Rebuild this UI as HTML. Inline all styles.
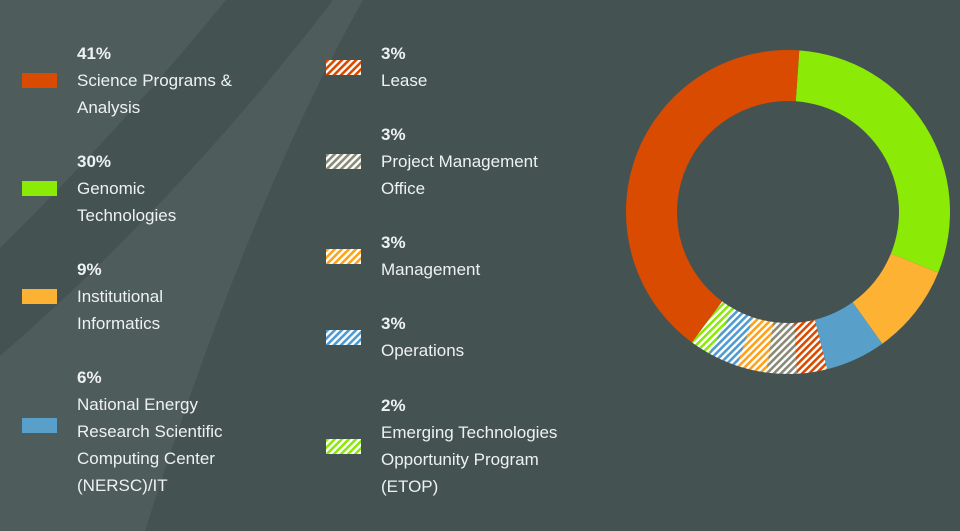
<!DOCTYPE html>
<html><head><meta charset="utf-8"><style>
body{margin:0;width:960px;height:531px;overflow:hidden;background:#455252;font-family:"Liberation Sans",sans-serif;position:relative}
#bg{position:absolute;left:0;top:0}
.col{position:absolute;top:0}
.item{position:absolute;display:flex;align-items:center}
.sw{width:35px;height:15px;margin-right:20px;flex:none}
.txt{color:#eef1f1;font-size:17px;line-height:27px}
.pct{font-weight:bold}
#donut{position:absolute;left:0;top:0}
</style></head><body>
<svg id="bg" width="960" height="531">
<path d="M0 0 L226 0 Q120 130 0 248 Z" fill="#4f5c5c"/>
<path d="M333 0 Q180 200 0 356 L0 531 L145 531 Q250 200 363 0 Z" fill="#4f5c5c"/>
</svg>
<svg width="0" height="0" style="position:absolute">
<defs>
<pattern id="h-lease" width="5" height="5" patternUnits="userSpaceOnUse" patternTransform="rotate(45)"><rect width="5" height="5" fill="#fff"/><rect width="2.6" height="5" fill="#d84a00"/></pattern>
<pattern id="h-pmo" width="5" height="5" patternUnits="userSpaceOnUse" patternTransform="rotate(45)"><rect width="5" height="5" fill="#fff"/><rect width="2.6" height="5" fill="#8a8a78"/></pattern>
<pattern id="h-mgmt" width="5" height="5" patternUnits="userSpaceOnUse" patternTransform="rotate(45)"><rect width="5" height="5" fill="#fff"/><rect width="2.6" height="5" fill="#fda31b"/></pattern>
<pattern id="h-ops" width="5" height="5" patternUnits="userSpaceOnUse" patternTransform="rotate(45)"><rect width="5" height="5" fill="#fff"/><rect width="2.6" height="5" fill="#4f9ad0"/></pattern>
<pattern id="h-etop" width="5" height="5" patternUnits="userSpaceOnUse" patternTransform="rotate(45)"><rect width="5" height="5" fill="#fff"/><rect width="2.6" height="5" fill="#8be80a"/></pattern>
</defs></svg>

<div>
<div class="item" style="left:22px;top:40px;height:81px"><div class="sw" style="background:#d94b00"></div><div class="txt"><div class="pct">41%</div>Science Programs &amp;<br>Analysis</div></div>
<div class="item" style="left:22px;top:148px;height:81px"><div class="sw" style="background:#8bea06"></div><div class="txt"><div class="pct">30%</div>Genomic<br>Technologies</div></div>
<div class="item" style="left:22px;top:256px;height:81px"><div class="sw" style="background:#fdb234"></div><div class="txt"><div class="pct">9%</div>Institutional<br>Informatics</div></div>
<div class="item" style="left:22px;top:364px;height:135px"><div class="sw" style="background:#58a0c9;margin-top:-12px"></div><div class="txt"><div class="pct">6%</div>National Energy<br>Research Scientific<br>Computing Center<br>(NERSC)/IT</div></div>

<div class="item" style="left:326px;top:40px;height:54px"><div class="sw" style="background:url(#)"><svg width="35" height="15"><rect width="35" height="15" fill="url(#h-lease)"/></svg></div><div class="txt"><div class="pct">3%</div>Lease</div></div>
<div class="item" style="left:326px;top:121px;height:81px"><div class="sw"><svg width="35" height="15"><rect width="35" height="15" fill="url(#h-pmo)"/></svg></div><div class="txt"><div class="pct">3%</div>Project Management<br>Office</div></div>
<div class="item" style="left:326px;top:229px;height:54px"><div class="sw"><svg width="35" height="15"><rect width="35" height="15" fill="url(#h-mgmt)"/></svg></div><div class="txt"><div class="pct">3%</div>Management</div></div>
<div class="item" style="left:326px;top:310px;height:54px"><div class="sw"><svg width="35" height="15"><rect width="35" height="15" fill="url(#h-ops)"/></svg></div><div class="txt"><div class="pct">3%</div>Operations</div></div>
<div class="item" style="left:326px;top:392px;height:108px"><div class="sw"><svg width="35" height="15"><rect width="35" height="15" fill="url(#h-etop)"/></svg></div><div class="txt"><div class="pct">2%</div>Emerging Technologies<br>Opportunity Program<br>(ETOP)</div></div>
</div>

<svg id="donut" width="960" height="531"></svg>
<script>
const categories = ["Genomic Technologies","Institutional Informatics","NERSC/IT","Lease","Project Management Office","Management","Operations","ETOP","Science Programs & Analysis"];
const values = [30, 9, 6, 3, 3, 3, 3, 2, 41];
const fills = ["#8bea06","#fdb234","#58a0c9","url(#h-lease)","url(#h-pmo)","url(#h-mgmt)","url(#h-ops)","url(#h-etop)","#d94b00"];
const cx = 788, cy = 212, R = 162, r = 111, startDeg = 4;
const svg = document.getElementById('donut');
const total = values.reduce((a,b)=>a+b,0);
function pt(deg, rad){const a=(deg-90)*Math.PI/180;return [cx+rad*Math.cos(a), cy+rad*Math.sin(a)];}
let acc = startDeg;
values.forEach((v,i)=>{
  const a0 = acc, a1 = acc + v/total*360; acc = a1;
  const large = (a1-a0)>180?1:0;
  const p0=pt(a0,R),p1=pt(a1,R),q1=pt(a1,r),q0=pt(a0,r);
  const p=document.createElementNS('http://www.w3.org/2000/svg','path');
  p.setAttribute('d',`M${p0[0]} ${p0[1]} A${R} ${R} 0 ${large} 1 ${p1[0]} ${p1[1]} L${q1[0]} ${q1[1]} A${r} ${r} 0 ${large} 0 ${q0[0]} ${q0[1]} Z`);
  p.setAttribute('fill',fills[i]);
  
  
  svg.appendChild(p);
});
</script>
</body></html>
